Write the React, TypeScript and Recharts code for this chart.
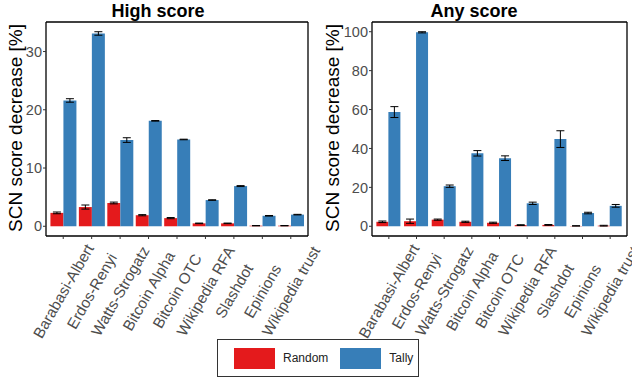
import { BarChart, Bar, ErrorBar, XAxis, YAxis } from 'recharts';

const CATEGORIES = [
  'Barabasi-Albert',
  'Erdos-Renyi',
  'Watts-Strogatz',
  'Bitcoin Alpha',
  'Bitcoin OTC',
  'Wikipedia RFA',
  'Slashdot',
  'Epinions',
  'Wikipedia trust',
];

// High score panel
const HIGH_RANDOM = [2.3, 3.3, 4.0, 1.9, 1.4, 0.5, 0.5, 0.1, 0.1];
const HIGH_RANDOM_ERR = [0.15, 0.35, 0.15, 0.1, 0.1, 0.05, 0.05, 0.03, 0.03];
const HIGH_TALLY = [21.6, 33.1, 14.8, 18.1, 14.9, 4.5, 6.9, 1.8, 2.0];
const HIGH_TALLY_ERR = [0.3, 0.3, 0.4, 0.05, 0.05, 0.05, 0.08, 0.05, 0.05];
const HIGH_TICKS = [0, 10, 20, 30];

// Any score panel
const ANY_RANDOM = [2.3, 2.6, 3.4, 2.3, 1.8, 0.6, 0.7, 0.2, 0.3];
const ANY_RANDOM_ERR = [0.4, 1.1, 0.3, 0.3, 0.3, 0.2, 0.2, 0.1, 0.2];
const ANY_TALLY = [58.7, 99.7, 20.6, 37.5, 35.0, 11.8, 44.8, 6.8, 10.5];
const ANY_TALLY_ERR = [2.8, 0.3, 0.6, 1.4, 1.2, 0.6, 4.3, 0.4, 0.7];
const ANY_TICKS = [0, 20, 40, 60, 80, 100];

const SERIES = [
  { key: 'random', name: 'Random', color: '#E41A1C' },
  { key: 'tally', name: 'Tally', color: '#377EB8' },
];

const FONT = '"Liberation Sans", Arial, Helvetica, sans-serif';
const FRAME = { stroke: '#000', strokeWidth: 1.3 };

function buildRows(random: number[], randomErr: number[], tally: number[], tallyErr: number[]) {
  return CATEGORIES.map((name, i) => ({
    name,
    random: random[i],
    randomErr: randomErr[i],
    tally: tally[i],
    tallyErr: tallyErr[i],
  }));
}

// ggplot-style slanted label, centred below its tick
function SlantedTick({ x, y, payload }: { x?: number; y?: number; payload?: { value: string } }) {
  return (
    <text
      transform={`translate(${x},${(y ?? 0) + 50}) rotate(-60)`}
      textAnchor="middle"
      dominantBaseline="central"
      fontSize={15.3}
      fill="#4D4D4D"
      fontFamily={FONT}
    >
      {payload?.value}
    </text>
  );
}

interface PanelProps {
  rows: ReturnType<typeof buildRows>;
  domain: [number, number];
  ticks: number[];
  left: number;
  width: number;
  yAxisWidth: number;
  margin: { top: number; right: number; bottom: number; left: number };
}

function Panel({ rows, domain, ticks, left, width, yAxisWidth, margin }: PanelProps) {
  return (
    <div style={{ position: 'absolute', left, top: 0 }}>
      <BarChart width={width} height={381} data={rows} margin={margin} barCategoryGap="5%" barGap={0}>
        <XAxis
          dataKey="name"
          interval={0}
          height={145}
          padding={{ left: 3, right: 3 }}
          tick={<SlantedTick />}
          tickSize={3}
          tickMargin={2}
          axisLine={FRAME}
          tickLine={{ stroke: '#333' }}
        />
        {/* top and right axes only close the panel frame */}
        <XAxis xAxisId="top" orientation="top" dataKey="name" height={1} tick={false} tickLine={false} axisLine={FRAME} />
        <YAxis
          type="number"
          domain={domain}
          ticks={ticks}
          allowDataOverflow
          width={yAxisWidth}
          tickSize={3}
          tickMargin={1}
          tick={{ fill: '#4D4D4D', fontSize: 14.5, fontFamily: FONT }}
          axisLine={FRAME}
          tickLine={{ stroke: '#333' }}
        />
        <YAxis yAxisId="right" orientation="right" type="number" domain={[0, 1]} width={1} tick={false} tickLine={false} axisLine={FRAME} />
        {SERIES.map((s) => (
          <Bar key={s.key} dataKey={s.key} name={s.name} fill={s.color} isAnimationActive={false}>
            <ErrorBar dataKey={`${s.key}Err`} width={4} stroke="#000" strokeWidth={1} direction="y" isAnimationActive={false} />
          </Bar>
        ))}
      </BarChart>
    </div>
  );
}

const titleStyle: React.CSSProperties = {
  position: 'absolute',
  top: 0,
  width: 316,
  textAlign: 'center',
  fontSize: 18,
  fontWeight: 700,
  lineHeight: '22px',
  color: '#000',
};

const yTitleStyle: React.CSSProperties = {
  position: 'absolute',
  top: 128,
  fontSize: 19,
  whiteSpace: 'nowrap',
  color: '#000',
  transform: 'translate(-50%, -50%) rotate(-90deg)',
};

export default function App() {
  const highRows = buildRows(HIGH_RANDOM, HIGH_RANDOM_ERR, HIGH_TALLY, HIGH_TALLY_ERR);
  const anyRows = buildRows(ANY_RANDOM, ANY_RANDOM_ERR, ANY_TALLY, ANY_TALLY_ERR);

  return (
    <div
      style={{
        position: 'absolute',
        left: 0,
        top: 0,
        width: 632,
        height: 381,
        background: '#fff',
        overflow: 'hidden',
        fontFamily: FONT,
      }}
    >
      <Panel
        rows={highRows}
        domain={[-1.67, 35.07]}
        ticks={HIGH_TICKS}
        left={0}
        width={330}
        yAxisWidth={46}
        margin={{ top: 21, right: 21, bottom: 0, left: 0 }}
      />
      <Panel
        rows={anyRows}
        domain={[-5, 105]}
        ticks={ANY_TICKS}
        left={316}
        width={316}
        yAxisWidth={40}
        margin={{ top: 21, right: 4, bottom: 0, left: 16 }}
      />

      <div style={{ ...titleStyle, left: 0 }}>High score</div>
      <div style={{ ...titleStyle, left: 316 }}>Any score</div>
      <div style={{ ...yTitleStyle, left: 16 }}>SCN score decrease [%]</div>
      <div style={{ ...yTitleStyle, left: 333 }}>SCN score decrease [%]</div>

      {/* Legend */}
      <div
        style={{
          position: 'absolute',
          left: 217,
          top: 339,
          width: 200,
          height: 36,
          border: '1px solid #333',
          display: 'flex',
          alignItems: 'center',
          fontSize: 12,
          color: '#222',
        }}
      >
        {SERIES.map((s, i) => (
          <div key={s.key} style={{ display: 'flex', alignItems: 'center', marginLeft: i === 0 ? 16 : 12 }}>
            <div style={{ width: 41, height: 21, background: s.color }} />
            <span style={{ marginLeft: 8 }}>{s.name}</span>
          </div>
        ))}
      </div>
    </div>
  );
}
